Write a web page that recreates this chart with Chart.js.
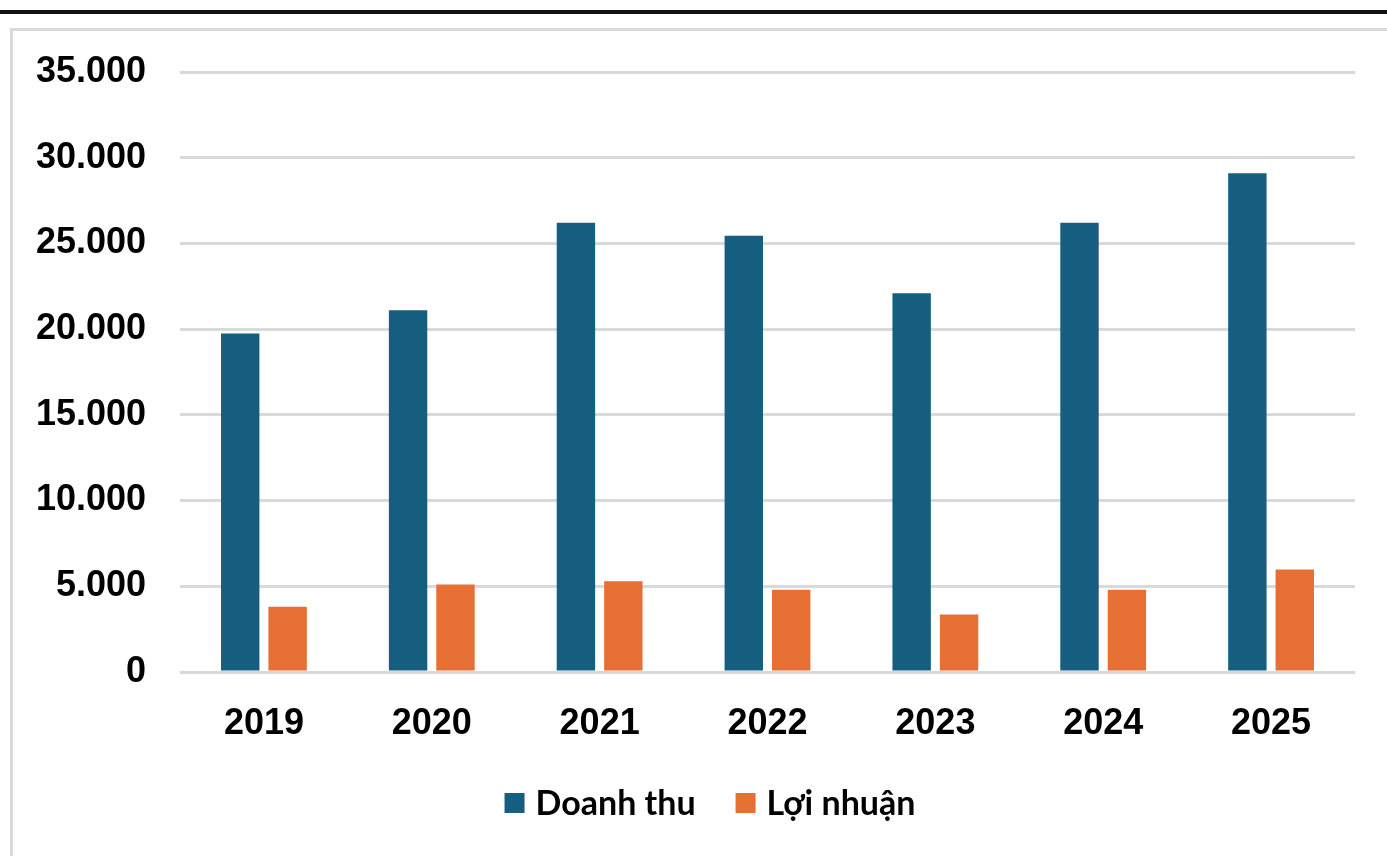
<!DOCTYPE html>
<html>
<head>
<meta charset="utf-8">
<script src="https://cdn.jsdelivr.net/npm/chart.js@4"></script>
<style>
  html, body { margin: 0; padding: 0; background: #fff; }
  body { width: 1387px; height: 856px; position: relative; overflow: hidden; }
  .topline { position: absolute; left: 0; top: 10px; width: 1387px; height: 4px; background: #111; }
  .frame { position: absolute; left: 10px; top: 28px; width: 1400px; height: 900px; border: 3px solid #dadada; box-sizing: border-box; }
  #wrap { position: absolute; left: 0; top: 0; width: 1387px; height: 856px; }
</style>
</head>
<body>
<div class="topline"></div>
<div class="frame"></div>
<div id="wrap"><canvas id="chart"></canvas></div>
<script>
const years = ['2019', '2020', '2021', '2022', '2023', '2024', '2025'];
const doanhThu = [19750, 21100, 26200, 25450, 22100, 26200, 29100];
const loiNhuan = [3800, 5100, 5300, 4800, 3350, 4800, 5980];
const seriesNames = ['Doanh thu', 'Lợi nhuận'];

const tickFont = { family: '"Liberation Sans", Arial, sans-serif', size: 36, weight: 'bold' };

function fmt(v) {
  return String(v).replace(/\B(?=(\d{3})+(?!\d))/g, '.');
}

// legend drawn below the axis, centred like the original
const bottomLegend = {
  id: 'bottomLegend',
  afterDraw(chart) {
    const c = chart.ctx;
    const sets = chart.data.datasets;
    const box = 20, gapText = 11, gapItem = 40, centerX = 710, centerY = 803;
    c.save();
    c.font = 'bold 34px Lato, "Open Sans", sans-serif';
    c.textBaseline = 'middle';
    const widths = sets.map(d => c.measureText(d.label).width);
    let total = 0;
    widths.forEach((w, i) => { total += box + gapText + w + (i ? gapItem : 0); });
    let x = centerX - total / 2;
    sets.forEach((d, i) => {
      c.fillStyle = d.backgroundColor;
      c.fillRect(x, centerY - box / 2, box, box);
      c.fillStyle = '#000';
      c.fillText(d.label, x + box + gapText, centerY + 1);
      x += box + gapText + widths[i] + gapItem;
    });
    c.restore();
  }
};

const ctx = document.getElementById('chart').getContext('2d');
new Chart(ctx, {
  type: 'bar',
  data: {
    labels: years,
    datasets: [
      { label: seriesNames[0], data: doanhThu, backgroundColor: '#165e80' },
      { label: seriesNames[1], data: loiNhuan, backgroundColor: '#e66f33' }
    ]
  },
  options: {
    responsive: true,
    maintainAspectRatio: false,
    animation: false,
    categoryPercentage: 0.565,
    barPercentage: 0.81,
    layout: { padding: { left: 0, right: 32, top: 72, bottom: 112 } },
    plugins: {
      tooltip: { enabled: false },
      legend: { display: false }
    },
    scales: {
      x: {
        grid: { display: false },
        border: { display: false },
        ticks: { color: '#000', font: tickFont, padding: 22, maxRotation: 0 },
        afterFit: s => { s.height = 72; }
      },
      y: {
        min: 0,
        max: 35000,
        border: { display: false },
        grid: { color: '#d9d9d9', lineWidth: 3, drawTicks: false },
        ticks: { stepSize: 5000, color: '#000', font: tickFont, padding: 34, callback: v => fmt(v) },
        afterFit: s => { s.width = 180; }
      }
    }
  },
  plugins: [bottomLegend]
});
</script>
</body>
</html>
